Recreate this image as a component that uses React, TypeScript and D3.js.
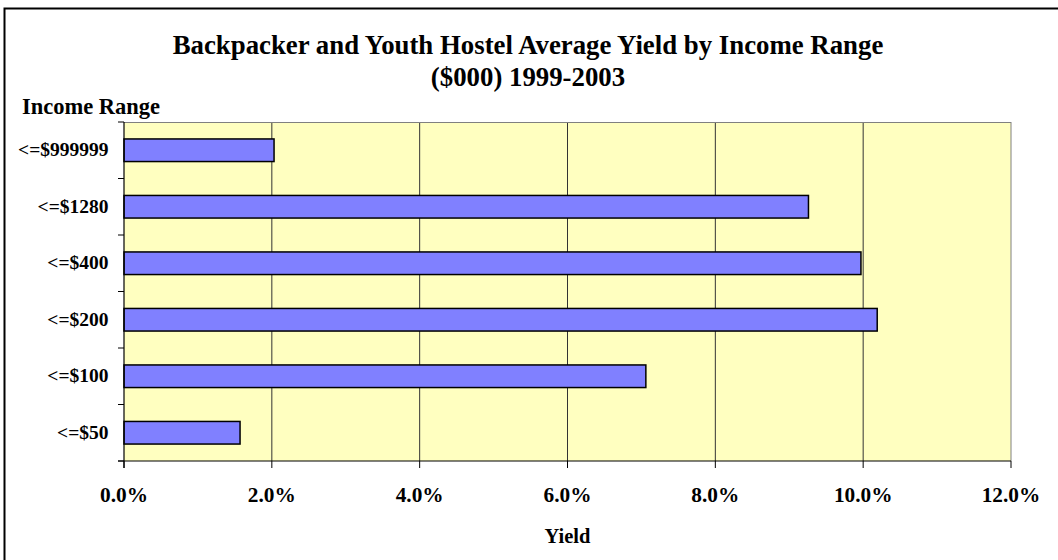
import React from "react";
import * as d3 from "d3";

const categories = ["<=$999999", "<=$1280", "<=$400", "<=$200", "<=$100", "<=$50"];
const yieldValues = [2.03, 9.26, 9.97, 10.19, 7.06, 1.57];
const xTicks = [0, 2, 4, 6, 8, 10, 12];

const W = 1058;
const H = 560;
const M = { left: 124, top: 122, right: 1011, bottom: 461 };

export default function App() {
  const x = d3.scaleLinear().domain([0, 12]).range([M.left, M.right]);
  const y = d3
    .scaleBand<string>()
    .domain(categories)
    .range([M.top, M.bottom])
    .paddingInner(0.6)
    .paddingOuter(0.3);
  const band = (M.bottom - M.top) / categories.length;
  const font = "'Liberation Serif', 'Times New Roman', serif";

  return (
    <svg width={W} height={H} style={{ position: "absolute", left: 0, top: 0 }} fontFamily={font}>
      <rect x={0} y={0} width={W} height={H} fill="#fff" />
      <path d={`M4.5,${H + 2} V8.5 H${W + 2}`} fill="none" stroke="#000" strokeWidth={2} />
      <text x={528} y={54} textAnchor="middle" fontSize={26.8} fontWeight="bold">
        Backpacker and Youth Hostel Average Yield by Income Range
      </text>
      <text x={528} y={86} textAnchor="middle" fontSize={26.8} fontWeight="bold">
        ($000) 1999-2003
      </text>
      <text x={22} y={114} fontSize={22.5} fontWeight="bold">Income Range</text>

      <rect x={M.left} y={M.top} width={M.right - M.left} height={M.bottom - M.top} fill="#FFFFC0" />
      {xTicks.slice(1).map((t) => (
        <line key={t} x1={x(t)} x2={x(t)} y1={M.top} y2={M.bottom} stroke={t === 12 ? "#808080" : "#333"} strokeWidth={1} />
      ))}
      <line x1={M.left} x2={M.right} y1={M.top + 0.5} y2={M.top + 0.5} stroke="#808080" strokeWidth={1} />

      {categories.map((c, i) => (
        <rect
          key={c}
          x={x(0)}
          y={y(c)!}
          width={x(yieldValues[i]) - x(0)}
          height={y.bandwidth()}
          fill="#8080FF"
          stroke="#000"
          strokeWidth={1.5}
        />
      ))}

      <line x1={M.left} x2={M.left} y1={M.top} y2={M.bottom + 7} stroke="#000" strokeWidth={1.2} />
      <line x1={M.left - 6} x2={M.right} y1={M.bottom} y2={M.bottom} stroke="#000" strokeWidth={1.2} />
      {d3.range(categories.length + 1).map((i) => (
        <line key={i} x1={M.left - 6} x2={M.left} y1={M.top + i * band} y2={M.top + i * band} stroke="#000" strokeWidth={1} />
      ))}
      {xTicks.map((t) => (
        <line key={t} x1={x(t)} x2={x(t)} y1={M.bottom} y2={M.bottom + 7} stroke="#000" strokeWidth={1} />
      ))}

      {categories.map((c) => (
        <text key={c} x={108.5} y={y(c)! + y.bandwidth() / 2 + 6} textAnchor="end" fontSize={19.5} fontWeight="bold">
          {c}
        </text>
      ))}
      {xTicks.map((t) => (
        <text key={t} x={x(t)} y={502} textAnchor="middle" fontSize={21.3} fontWeight="bold">
          {t.toFixed(1) + "%"}
        </text>
      ))}
      <text x={x(6)} y={543} textAnchor="middle" fontSize={20.5} fontWeight="bold">Yield</text>
    </svg>
  );
}
